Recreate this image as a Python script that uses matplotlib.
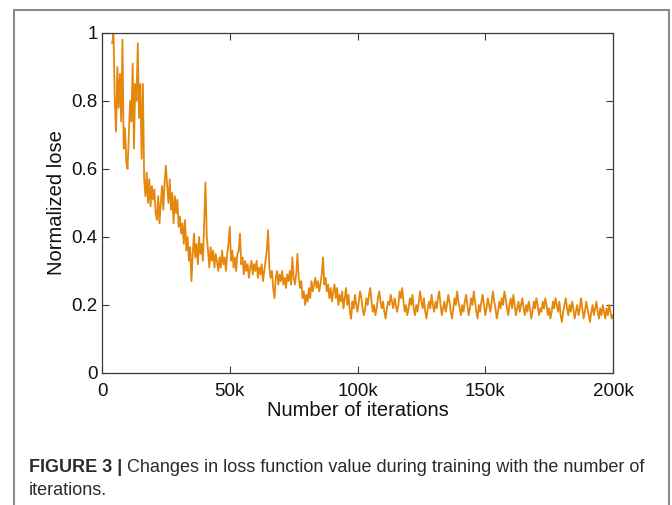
import numpy as np
import matplotlib
matplotlib.use("Agg")
import matplotlib.pyplot as plt
from matplotlib.patches import Rectangle
from matplotlib.ticker import FuncFormatter

plt.rcParams['font.family'] = ['Liberation Sans', 'DejaVu Sans']

# data: normalized loss every 500 iterations from 4k to 200k
start_k = 4.0
step_k = 0.5
loss = [
    # 4k - 99.5k
    0.97, 1.00, 0.80, 0.71, 0.90, 0.78, 0.88, 0.74, 0.98, 0.66,
    0.72, 0.62, 0.60, 0.70, 0.80, 0.74, 0.91, 0.66, 0.85, 0.80,
    0.97, 0.75, 0.85, 0.63, 0.85, 0.57, 0.52, 0.59, 0.50, 0.57,
    0.49, 0.55, 0.51, 0.54, 0.47, 0.45, 0.52, 0.44, 0.50, 0.55,
    0.48, 0.56, 0.61, 0.55, 0.50, 0.57, 0.48, 0.53, 0.44, 0.52,
    0.47, 0.51, 0.43, 0.46, 0.41, 0.44, 0.38, 0.45, 0.36, 0.40,
    0.33, 0.37, 0.27, 0.35, 0.41, 0.34, 0.38, 0.32, 0.40, 0.35,
    0.38, 0.33, 0.45, 0.56, 0.40, 0.36, 0.31, 0.37, 0.33, 0.36,
    0.31, 0.35, 0.33, 0.30, 0.34, 0.31, 0.36, 0.32, 0.34, 0.30,
    0.35, 0.38, 0.43, 0.33, 0.36, 0.31, 0.34, 0.30, 0.35, 0.36,
    0.41, 0.32, 0.34, 0.29, 0.33, 0.30, 0.32, 0.28, 0.31, 0.33,
    0.29, 0.32, 0.30, 0.33, 0.28, 0.31, 0.29, 0.32, 0.27, 0.30,
    0.33, 0.36, 0.42, 0.31, 0.28, 0.30, 0.25, 0.22, 0.28, 0.30,
    0.26, 0.29, 0.27, 0.30, 0.26, 0.28, 0.25, 0.29, 0.27, 0.30,
    0.26, 0.34, 0.28, 0.26, 0.29, 0.35, 0.28, 0.25, 0.27, 0.22,
    0.24, 0.20, 0.23, 0.21, 0.25, 0.22, 0.27, 0.24, 0.26, 0.28,
    0.25, 0.27, 0.24, 0.26, 0.29, 0.34, 0.26, 0.28, 0.24, 0.26,
    0.22, 0.25, 0.21, 0.24, 0.26, 0.22, 0.25, 0.20, 0.23, 0.21,
    0.24, 0.19, 0.22, 0.25, 0.20, 0.23, 0.18, 0.16, 0.21, 0.19,
    0.23, 0.20,
    # 100k - 200k
    0.18, 0.21, 0.24, 0.22, 0.19, 0.17, 0.19, 0.22, 0.20, 0.23,
    0.25, 0.21, 0.18, 0.20, 0.17, 0.19, 0.22, 0.24, 0.21, 0.19,
    0.21, 0.18, 0.16, 0.19, 0.21, 0.20, 0.23, 0.21, 0.19, 0.22,
    0.20, 0.18, 0.20, 0.24, 0.22, 0.25, 0.21, 0.18, 0.20, 0.17,
    0.19, 0.22, 0.20, 0.23, 0.19, 0.17, 0.20, 0.18, 0.21, 0.24,
    0.21, 0.19, 0.22, 0.18, 0.16, 0.19, 0.21, 0.19, 0.23, 0.20,
    0.18, 0.21, 0.19, 0.22, 0.24, 0.20, 0.17, 0.19, 0.21, 0.18,
    0.20, 0.23, 0.21, 0.18, 0.16, 0.19, 0.22, 0.20, 0.24, 0.21,
    0.19, 0.17, 0.20, 0.18, 0.21, 0.23, 0.20, 0.17, 0.19, 0.22,
    0.20, 0.24, 0.21, 0.18, 0.16, 0.20, 0.18, 0.21, 0.23, 0.20,
    0.17, 0.19, 0.22, 0.20, 0.18, 0.21, 0.24, 0.21, 0.19, 0.16,
    0.18, 0.21, 0.19, 0.22, 0.20, 0.24, 0.22, 0.19, 0.17, 0.20,
    0.22, 0.19, 0.23, 0.20, 0.17, 0.19, 0.21, 0.18, 0.20, 0.22,
    0.19, 0.17, 0.20, 0.18, 0.21, 0.19, 0.16, 0.18, 0.21, 0.19,
    0.22, 0.20, 0.17, 0.19, 0.18, 0.21, 0.19, 0.22, 0.20, 0.17,
    0.19, 0.16, 0.18, 0.21, 0.19, 0.22, 0.20, 0.18, 0.21, 0.17,
    0.15, 0.18, 0.20, 0.22, 0.19, 0.17, 0.20, 0.18, 0.21, 0.19,
    0.16, 0.18, 0.20, 0.17, 0.19, 0.22, 0.19, 0.16, 0.18, 0.21,
    0.19, 0.17, 0.15, 0.18, 0.20, 0.17, 0.19, 0.21, 0.18, 0.16,
    0.19, 0.17, 0.20, 0.18, 0.16, 0.19, 0.17, 0.20, 0.18, 0.16,
    0.17,
]
iterations = (start_k + step_k * np.arange(len(loss))) * 1000

x_ticks = [0, 50000, 100000, 150000, 200000]
y_ticks = [0, 0.2, 0.4, 0.6, 0.8, 1.0]

caption_bold = "FIGURE 3 | "
caption_rest = "Changes in loss function value during training with the number of"
caption_line2 = "iterations."

line_color = '#e5870b'
spine_color = '#3a3a3a'
text_color = '#111111'
caption_color = '#2b2b2b'

fig = plt.figure(figsize=(6.72, 5.05), dpi=100)
ax = fig.add_axes([0.1518, 0.2614, 0.7604, 0.6733])

ax.plot(iterations, loss, color=line_color, lw=1.3)

ax.set_xlim(0, 200000)
ax.set_ylim(0, 1)
ax.set_xticks(x_ticks)
ax.set_yticks(y_ticks)
ax.xaxis.set_major_formatter(FuncFormatter(lambda v, p: '0' if v == 0 else '%dk' % (v / 1000)))
ax.yaxis.set_major_formatter(FuncFormatter(lambda v, p: '%g' % v))
ax.tick_params(direction='in', length=5, width=0.8, color=spine_color,
               top=True, right=True, labelsize=13.5, labelcolor=text_color)
ax.tick_params(axis='x', pad=7)
ax.tick_params(axis='y', pad=3)
for s in ax.spines.values():
    s.set_color(spine_color)
    s.set_linewidth(0.9)

ax.set_xlabel("Number of iterations", fontsize=14.5, labelpad=1, color=text_color)
ax.set_ylabel("Normalized lose", fontsize=14.5, labelpad=4, color=text_color)

# outer frame around figure and caption
fig.patches.append(Rectangle((0.0208, -0.05), 0.9747, 1.03, transform=fig.transFigure,
                             fill=False, edgecolor='#8a8a8a', lw=1.5))

t1 = fig.text(0.043, 0.0653, caption_bold, fontsize=13, fontweight='bold',
              color=caption_color, va='baseline')
r = fig.canvas.get_renderer()
bb = t1.get_window_extent(renderer=r)
fig.text(bb.x1 / fig.bbox.width, 0.0653, caption_rest, fontsize=13,
         color=caption_color, va='baseline')
fig.text(0.043, 0.0198, caption_line2, fontsize=13, color=caption_color, va='baseline')

fig.savefig('out.png', dpi=100)
